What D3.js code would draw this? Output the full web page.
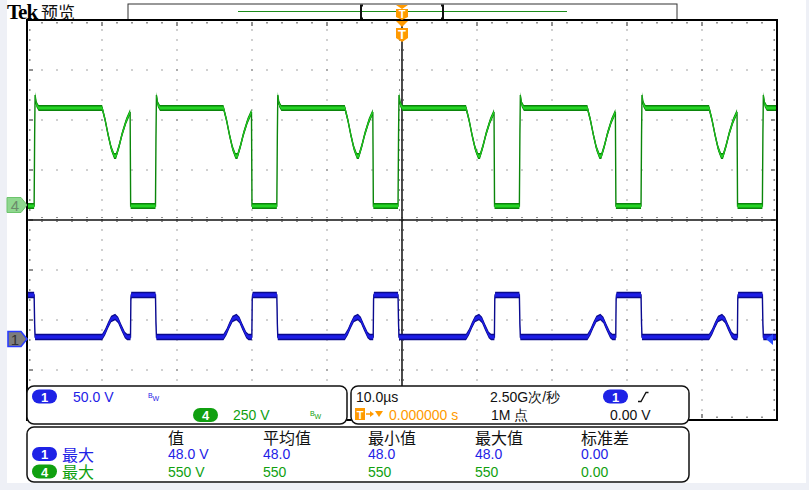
<!DOCTYPE html>
<html><head><meta charset="utf-8">
<script src="https://cdn.jsdelivr.net/npm/d3@7"></script>
<style>html,body{margin:0;padding:0;background:#eef0f6;} svg{display:block}</style>
</head><body><svg id="c" width="809" height="490"></svg>
<script>
const timeDomainUs = [-50, 50];          // 10.0 µs/div, 10 divisions, trigger at centre
const divisionsX = 10, divisionsY = 8;
const ch1VoltsPerDiv = 50, ch4VoltsPerDiv = 250;
const ch1GroundDiv = -2.38, ch4GroundDiv = 0.3;
// green (ch4) rising edges, µs
const cycleStartsUs = [-49.05, -32.87, -16.69, -0.53, 15.65, 31.87, 48.05];
// one switching cycle, offsets from the rising edge (µs) and volts
const ch4CycleOffsetsUs = [0, 0.07, 0.13, 0.3, 0.6, 9.07, 9.47, 9.87, 10.27, 10.67, 10.93, 11.33, 11.73, 12.27, 12.8, 12.87];
const ch4CycleVolts     = [-5, 350, 550, 505, 485, 485, 425, 350, 285, 245, 245, 295, 355, 420, 465, -5];
const ch1CycleOffsetsUs = [0, 0.07, 0.13, 9.07, 9.47, 9.87, 10.27, 10.8, 11.2, 11.6, 12.1, 12.4, 12.85, 12.9, 12.95];
const ch1CycleVolts     = [44, 15, 2, 2, 7, 14, 20, 22, 19, 12, 4, 2, 2, 40, 44];
const ch1LeadVolts = 44, ch4LeadVolts = -5;

const ch1Scale = "50.0 V", ch4Scale = "250 V";
const horizScale = "10.0µs", sampleRate = "2.50G次/秒", recordLen = "1M 点";
const triggerPos = "0.000000 s", triggerLevel = "0.00 V";
const measHeaders = ["值", "平均值", "最小值", "最大值", "标准差"];
const measName = "最大";
const ch1Meas = ["48.0 V", "48.0", "48.0", "48.0", "0.00"];
const ch4Meas = ["550 V", "550", "550", "550", "0.00"];

// ---------- layout ----------
const svg = d3.select("#c");
const L = 27, R = 777, T = 20, B = 420;
const xDiv = d3.scaleLinear().domain([0, divisionsX]).range([L, R]);
const yDiv = d3.scaleLinear().domain([-divisionsY/2, divisionsY/2]).range([B, T]);
const xT = d3.scaleLinear().domain(timeDomainUs).range([L, R]);
const y1 = v => yDiv(ch1GroundDiv + v / ch1VoltsPerDiv);
const y4 = v => yDiv(ch4GroundDiv + v / ch4VoltsPerDiv);

const BLUE = "#1e22e6", GREEN = "#10a010", ORANGE = "#ff9a00";
const LAT = "'Liberation Sans', Arial, sans-serif";
const CJK = "'Noto Sans CJK SC', sans-serif";

svg.append("rect").attr("x", 7).attr("y", 0).attr("width", 799).attr("height", 483).attr("fill", "#fff");

// ---------- graticule ----------
const g = svg.append("g");
const minor = d3.range(0, divisionsX + 0.001, 0.2);
const minorY = d3.range(-divisionsY/2, divisionsY/2 + 0.001, 0.2);
const dotColor = "#444";
d3.range(1, divisionsX).filter(i => i !== 5).forEach(i => {
  minorY.forEach(v => g.append("rect").attr("x", xDiv(i) - 0.5).attr("y", yDiv(v) - 0.5).attr("width", 1).attr("height", 1).attr("fill", dotColor));
});
d3.range(-3, 4).filter(j => j !== 0).forEach(j => {
  minor.forEach(u => g.append("rect").attr("x", xDiv(u) - 0.5).attr("y", yDiv(j) - 0.5).attr("width", 1).attr("height", 1).attr("fill", dotColor));
});
minor.forEach(u => {
  const major = Math.abs(u - Math.round(u)) < 1e-6;
  g.append("rect").attr("x", xDiv(u) - 0.5).attr("y", T + 2).attr("width", 1).attr("height", major ? 4 : 1.5).attr("fill", "#222");
  g.append("rect").attr("x", xDiv(u) - 0.5).attr("y", B - (major ? 6 : 3.5)).attr("width", 1).attr("height", major ? 4 : 1.5).attr("fill", "#222");
});
minorY.forEach(v => {
  const major = Math.abs(v - Math.round(v)) < 1e-6;
  g.append("rect").attr("x", L + 2).attr("y", yDiv(v) - 0.5).attr("width", major ? 4 : 1.5).attr("height", 1).attr("fill", "#222");
  g.append("rect").attr("x", R - (major ? 6 : 3.5)).attr("y", yDiv(v) - 0.5).attr("width", major ? 4 : 1.5).attr("height", 1).attr("fill", "#222");
});
g.append("line").attr("x1", L).attr("x2", R).attr("y1", yDiv(0)).attr("y2", yDiv(0)).attr("stroke", "#111").attr("stroke-width", 1.5);
g.append("line").attr("x1", xDiv(5)).attr("x2", xDiv(5)).attr("y1", T).attr("y2", B).attr("stroke", "#111").attr("stroke-width", 1.5);
minor.forEach(u => g.append("line").attr("x1", xDiv(u)).attr("x2", xDiv(u)).attr("y1", yDiv(0) - 3).attr("y2", yDiv(0) + 3)
  .attr("stroke", "#222").attr("stroke-width", 1).attr("stroke-dasharray", "1,1"));
minorY.forEach(v => g.append("line").attr("x1", xDiv(5) - 3).attr("x2", xDiv(5) + 3).attr("y1", yDiv(v)).attr("y2", yDiv(v))
  .attr("stroke", "#222").attr("stroke-width", 1).attr("stroke-dasharray", "1,1"));
g.append("rect").attr("x", L).attr("y", T).attr("width", R - L).attr("height", B - T).attr("fill", "none").attr("stroke", "#000").attr("stroke-width", 2);

// ---------- traces ----------
svg.append("clipPath").attr("id", "clip").append("rect").attr("x", L + 1).attr("y", T + 1).attr("width", R - L - 2).attr("height", B - T - 2);
function buildTrace(offsets, volts, lead) {
  const pts = [[timeDomainUs[0], lead]];
  cycleStartsUs.forEach(s => offsets.forEach((o, i) => pts.push([s + o, volts[i]])));
  return pts;
}
const ch4Data = buildTrace(ch4CycleOffsetsUs, ch4CycleVolts, ch4LeadVolts);
const ch1Data = buildTrace(ch1CycleOffsetsUs, ch1CycleVolts, ch1LeadVolts);
const tg = svg.append("g").attr("clip-path", "url(#clip)");
function drawTrace(data, yf, outer, inner, half) {
  const band = h => d3.area().x(d => xT(d[0])).y0(d => yf(d[1]) + h).y1(d => yf(d[1]) - h);
  tg.append("path").attr("d", band(half)(data)).attr("fill", outer);
  tg.append("path").attr("d", d3.line().x(d => xT(d[0])).y(d => yf(d[1]))(data)).attr("fill", "none").attr("stroke", outer).attr("stroke-width", 1.4);
  tg.append("path").attr("d", band(half * 0.5)(data)).attr("fill", inner);
}
drawTrace(ch4Data, y4, "#0b850b", "#25d425", 3);
drawTrace(ch1Data, y1, "#0a0a8c", "#1e1ee6", 3.3);

// ---------- channel markers ----------
const m4 = y4(0), m1 = y1(0);
svg.append("path").attr("d", `M7,${m4-7.5} L21,${m4-7.5} L27,${m4} L21,${m4+7.5} L7,${m4+7.5} Z`).attr("fill", "#8fd78f").attr("stroke", "#6cc46c");
svg.append("text").attr("x", 15).attr("y", m4 + 5.5).attr("text-anchor", "middle").attr("font-family", LAT).attr("font-size", 15).attr("fill", "#6b8a6b").text("4");
svg.append("path").attr("d", `M8,${m1-7.5} L21,${m1-7.5} L27,${m1} L21,${m1+7.5} L8,${m1+7.5} Z`).attr("fill", "#7d7d7d").attr("stroke", "#2a3cff").attr("stroke-width", 1.6);
svg.append("text").attr("x", 15).attr("y", m1 + 5.5).attr("text-anchor", "middle").attr("font-family", LAT).attr("font-size", 15).attr("fill", "#333").text("1");
svg.append("path").attr("d", `M766,${m1} L773,${m1-5} L773,${m1+6} Z`).attr("fill", "#2a4aff");

// ---------- top bar ----------
svg.append("text").attr("x", 7).attr("y", 19).attr("font-family", "'Liberation Serif', serif").attr("font-weight", "bold").attr("font-size", 21).attr("letter-spacing", -1).attr("fill", "#000").text("Tek");
svg.append("text").attr("x", 41).attr("y", 18.5).attr("font-family", CJK).attr("font-size", 17).attr("fill", "#111").text("预览");
svg.append("rect").attr("x", 128).attr("y", 4).attr("width", 549).attr("height", 16).attr("fill", "#fff").attr("stroke", "#333").attr("stroke-width", 1);
svg.append("line").attr("x1", 238).attr("x2", 567).attr("y1", 11.5).attr("y2", 11.5).attr("stroke", "#1a8c1a").attr("stroke-width", 1);
[[361, 1], [443, -1]].forEach(([bx, s]) => {
  svg.append("path").attr("d", `M${bx + 2*s},5.5 L${bx},5.5 L${bx},18.5 L${bx + 2*s},18.5`).attr("fill", "none").attr("stroke", "#111").attr("stroke-width", 2);
});
svg.append("line").attr("x1", L).attr("x2", R).attr("y1", T).attr("y2", T).attr("stroke", "#000").attr("stroke-width", 2);
const tx = xT(0);
svg.append("path").attr("d", `M${tx-6},5 L${tx+6},5 L${tx},9 Z`).attr("fill", ORANGE);
svg.append("path").attr("d", `M${tx-6},9 L${tx+6},9 L${tx+6},17 L${tx},20 L${tx-6},17 Z`).attr("fill", ORANGE);
svg.append("text").attr("x", tx).attr("y", 18).attr("text-anchor", "middle").attr("font-family", LAT).attr("font-weight", "bold").attr("font-size", 11).attr("fill", "#fff").text("T");
svg.append("path").attr("d", `M${tx-6},21 L${tx+6},21 L${tx},27 Z`).attr("fill", ORANGE);
svg.append("path").attr("d", `M${tx-6},28 L${tx+6},28 L${tx+6},38 L${tx},42 L${tx-6},38 Z`).attr("fill", ORANGE);
svg.append("text").attr("x", tx).attr("y", 39).attr("text-anchor", "middle").attr("font-family", LAT).attr("font-weight", "bold").attr("font-size", 13).attr("fill", "#fff").text("T");

// ---------- info panels ----------
function panel(x, y, w, h) {
  svg.append("rect").attr("x", x).attr("y", y).attr("width", w).attr("height", h).attr("rx", 7).attr("fill", "#fff").attr("stroke", "#111").attr("stroke-width", 1.5);
}
function pill(x, y, color, label) {
  svg.append("rect").attr("x", x).attr("y", y).attr("width", 25).attr("height", 14).attr("rx", 7).attr("fill", color);
  svg.append("text").attr("x", x + 12.5).attr("y", y + 12).attr("text-anchor", "middle").attr("font-family", LAT).attr("font-weight", "bold").attr("font-size", 13).attr("fill", "#fff").text(label);
}
function txt(x, y, s, color, size, fam) {
  return svg.append("text").attr("x", x).attr("y", y).attr("font-family", fam || LAT).attr("font-size", size || 14).attr("fill", color).text(s);
}
panel(27, 386, 320, 38);
panel(351, 386, 338, 38);
panel(27, 427, 662, 55);

pill(32, 389.5, BLUE, "1");
txt(73, 401.5, ch1Scale, BLUE);
txt(148, 397.5, "B", BLUE, 7); txt(152.5, 401, "W", BLUE, 7);
pill(193, 408, GREEN, "4");
txt(233, 419.5, ch4Scale, GREEN);
txt(310, 415.5, "B", GREEN, 7); txt(314.5, 419, "W", GREEN, 7);

txt(356, 401.5, horizScale, "#111");
txt(490, 401.5, sampleRate, "#111");
pill(603, 389.5, BLUE, "1");
svg.append("path").attr("d", "M638,401.5 L641,401.5 L646,392.5 L648.5,392.5").attr("fill", "none").attr("stroke", "#111").attr("stroke-width", 1.3);
svg.append("rect").attr("x", 355).attr("y", 408).attr("width", 10).attr("height", 12).attr("fill", ORANGE);
svg.append("text").attr("x", 360).attr("y", 418.5).attr("text-anchor", "middle").attr("font-family", LAT).attr("font-weight", "bold").attr("font-size", 11).attr("fill", "#fff").text("T");
svg.append("path").attr("d", "M366,414 L372,414").attr("stroke", ORANGE).attr("stroke-width", 1.5);
svg.append("path").attr("d", "M370,411 L374,414 L370,417 Z").attr("fill", ORANGE);
svg.append("path").attr("d", "M375,411 L383,411 L379,417 Z").attr("fill", ORANGE);
txt(389, 419.5, triggerPos, ORANGE);
txt(491, 419.5, recordLen, "#111");
txt(610, 419.5, triggerLevel, "#111");

const colX = [168, 263, 368, 475, 581];
measHeaders.forEach((h, i) => txt(colX[i], 444, h, "#111", 16, CJK));
pill(32, 447, BLUE, "1");
txt(62, 460.5, measName, BLUE, 16, CJK);
ch1Meas.forEach((v, i) => txt(colX[i], 459, v, BLUE));
pill(32, 464.5, GREEN, "4");
txt(62, 478, measName, GREEN, 16, CJK);
ch4Meas.forEach((v, i) => txt(colX[i], 476.5, v, GREEN));
</script></body></html>
